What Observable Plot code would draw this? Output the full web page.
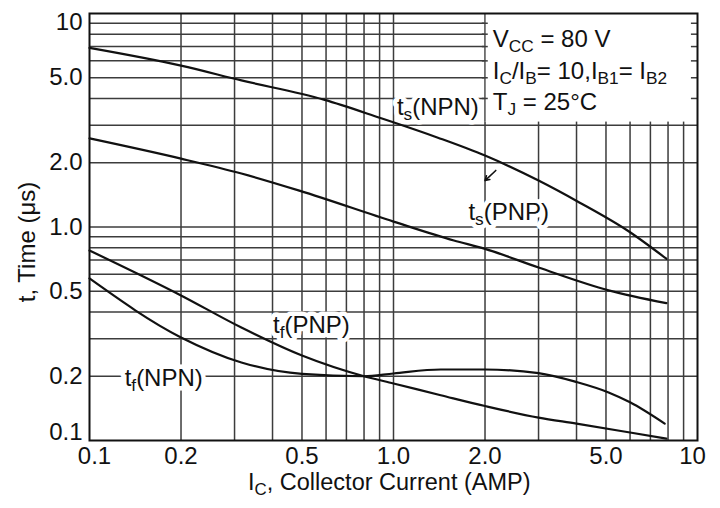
<!DOCTYPE html>
<html><head><meta charset="utf-8">
<script src="https://cdn.jsdelivr.net/npm/d3@7"></script>
<script src="https://cdn.jsdelivr.net/npm/@observablehq/plot@0.6"></script>
<style>body{margin:0;background:#fff;}</style>
</head><body><div id="chart"></div>
<script>
// ---- data ----
const tsNPN_x = [0.1, 0.2, 0.316, 0.59, 0.9, 1.4, 2.0, 3.0, 4.1, 5.9, 7.9];
const tsNPN_y = [6.9, 5.7, 4.86, 3.95, 3.25, 2.62, 2.16, 1.65, 1.30, 0.96, 0.71];
const tsPNP_x = [0.1, 0.2, 0.316, 0.49, 1.0, 1.58, 2.0, 3.0, 5.1, 7.9];
const tsPNP_y = [2.6, 2.09, 1.78, 1.48, 1.06, 0.865, 0.79, 0.646, 0.505, 0.44];
const tfPNP_x = [0.1, 0.2, 0.316, 0.5, 0.8, 1.0, 1.43, 2.0, 3.0, 4.0, 6.0, 7.9];
const tfPNP_y = [0.776, 0.478, 0.338, 0.25, 0.2, 0.185, 0.163, 0.145, 0.128, 0.12, 0.109, 0.102];
const tfNPN_x = [0.1, 0.2, 0.316, 0.5, 0.8, 1.0, 1.43, 2.0, 3.0, 4.0, 5.1, 6.0, 7.8];
const tfNPN_y = [0.574, 0.304, 0.232, 0.205, 0.2, 0.206, 0.215, 0.215, 0.207, 0.188, 0.168, 0.151, 0.12];

const xGrid = [0.2,0.3,0.4,0.5,0.6,0.7,0.8,0.9,1,2,3,4,5,6,7,8,9];
const yGrid = [0.2,0.3,0.4,0.5,0.6,0.7,0.8,0.9,1,2,3,4,5,6,7,8,9];
const xTicks = [0.1, 0.2, 0.5, 1, 2, 5, 10];
const xTickLabels = ["0.1", "0.2", "0.5", "1.0", "2.0", "5.0", "10"];
const yTicks = [0.1, 0.2, 0.5, 1, 2, 5, 10];
const yTickLabels = ["0.1", "0.2", "0.5", "1.0", "2.0", "5.0", "10"];

const xTitle = [["I", 0], ["C", 1], [", Collector Current (AMP)", 0]];
const yTitle = "t, Time (\u03bcs)";
const conditionLines = [
  [["V", 0], ["CC", 1], [" = 80 V", 0]],
  [["I", 0], ["C", 1], ["/I", 0], ["B", 1], ["= 10,I", 0], ["B1", 1], ["= I", 0], ["B2", 1]],
  [["T", 0], ["J", 1], [" = 25\u00b0C", 0]]
];
const conditionY = [6.93, 4.91, 3.51];
const conditionX = 2.13;
const curveLabels = [
  {parts: [["t", 0], ["s", 1], ["(NPN)", 0]], x: 1.03, y: 3.33},
  {parts: [["t", 0], ["s", 1], ["(PNP)", 0]], x: 1.77, y: 1.07},
  {parts: [["t", 0], ["f", 1], ["(PNP)", 0]], x: 0.403, y: 0.317},
  {parts: [["t", 0], ["f", 1], ["(NPN)", 0]], x: 0.131, y: 0.179}
];
const boxArea = {x1: 2, x2: 10, y1: 3.1, y2: 10};
const boxTickY = [4, 5, 6, 7, 8, 9];
const leader = {x1: 2.17, y1: 1.84, x2: 2.0, y2: 1.65};

// ---- build ----
const rows = [];
[["ts NPN", tsNPN_x, tsNPN_y], ["ts PNP", tsPNP_x, tsPNP_y],
 ["tf PNP", tfPNP_x, tfPNP_y], ["tf NPN", tfNPN_x, tfNPN_y]].forEach(([s, xs, ys]) =>
  xs.forEach((x, i) => rows.push({series: s, x, y: ys[i]})));

const xt = xTicks.map((v, i) => ({v, label: xTickLabels[i], dx: i === 0 ? 5 : i === xTicks.length - 1 ? -5 : 0}));
const yt = yTicks.map((v, i) => ({v, label: yTickLabels[i], dy: i === 0 ? -8 : i === yTicks.length - 1 ? 9 : 0}));
const gridColor = "#3c3c3c";
const font = "'Liberation Sans', Arial, sans-serif";

const marks = [
  Plot.ruleX(xGrid, {stroke: gridColor, strokeWidth: 1.5}),
  Plot.ruleY(yGrid, {stroke: gridColor, strokeWidth: 1.5}),
  Plot.rect([boxArea], {x1: "x1", x2: "x2", y1: "y1", y2: "y2", fill: "white"}),
  Plot.ruleX([boxArea], {x: "x1", y1: "y1", y2: "y2", stroke: gridColor, strokeWidth: 1.2}),
  Plot.ruleY(boxTickY, {x1: 1.96, x2: 2.05, stroke: gridColor, strokeWidth: 1.5}),
  Plot.ruleY(boxTickY, {x1: 9.55, x2: 10, stroke: gridColor, strokeWidth: 1.5}),
  Plot.line(rows, {x: "x", y: "y", z: "series", curve: "monotone-x", stroke: "#111", strokeWidth: 2.2}),
  Plot.arrow([leader], {x1: "x1", y1: "y1", x2: "x2", y2: "y2", stroke: "#111", strokeWidth: 1.6, headLength: 7}),
  Plot.frame({stroke: "#111", strokeWidth: 2})
];
xt.forEach(t => marks.push(Plot.text([t], {x: "v", text: "label", frameAnchor: "bottom", lineAnchor: "top", dy: 6, dx: t.dx, fontSize: 24, fill: "#111"})));
yt.forEach(t => marks.push(Plot.text([t], {y: "v", text: "label", frameAnchor: "left", textAnchor: "end", dx: -7, dy: t.dy, fontSize: 24, fill: "#111"})));

const plot = Plot.plot({
  width: 720, height: 508,
  marginLeft: 89, marginRight: 23, marginTop: 13, marginBottom: 68,
  x: {type: "log", domain: [0.1, 10], axis: null},
  y: {type: "log", domain: [0.1, 10], axis: null},
  style: {fontFamily: font, fontSize: "24px", color: "#111", background: "white"},
  marks
});

const svg = d3.select(plot);
const sx = plot.scale("x"), sy = plot.scale("y");

function rich(g, parts, x, y, {size = 24, halo = false} = {}) {
  const t = g.append("text").attr("x", x).attr("y", y).attr("font-size", size)
    .attr("text-anchor", "start").attr("fill", halo ? "white" : "#111");
  if (halo) t.attr("stroke", "white").attr("stroke-width", 9).attr("stroke-linejoin", "round");
  let down = false;
  const shift = size * 0.2;
  for (const [s, sub] of parts) {
    const ts = t.append("tspan").text(s);
    if (sub && !down) { ts.attr("dy", shift).attr("font-size", size * 0.72); down = true; }
    else if (sub) { ts.attr("font-size", size * 0.72); }
    else if (down) { ts.attr("dy", -shift); down = false; }
  }
  return t;
}

// labels go beneath the curves: a white halo copy first, then the text
const labelG = svg.insert("g", "g[aria-label=line]").attr("font-family", font).attr("text-anchor", "start");
curveLabels.forEach(l => rich(labelG, l.parts, sx.apply(l.x), sy.apply(l.y), {halo: true}).attr("aria-hidden", "true"));
curveLabels.forEach(l => rich(labelG, l.parts, sx.apply(l.x), sy.apply(l.y)));

const topG = svg.append("g").attr("font-family", font).attr("text-anchor", "start");
conditionLines.forEach((parts, i) => rich(topG, parts, sx.apply(conditionX), sy.apply(conditionY[i])));
rich(topG, xTitle, 248, 490, {size: 23.5});
topG.append("text").attr("transform", "translate(35,242) rotate(-90)")
  .attr("text-anchor", "middle").attr("font-size", 24).attr("fill", "#111").text(yTitle);

document.getElementById("chart").appendChild(plot);
</script>
</body></html>
